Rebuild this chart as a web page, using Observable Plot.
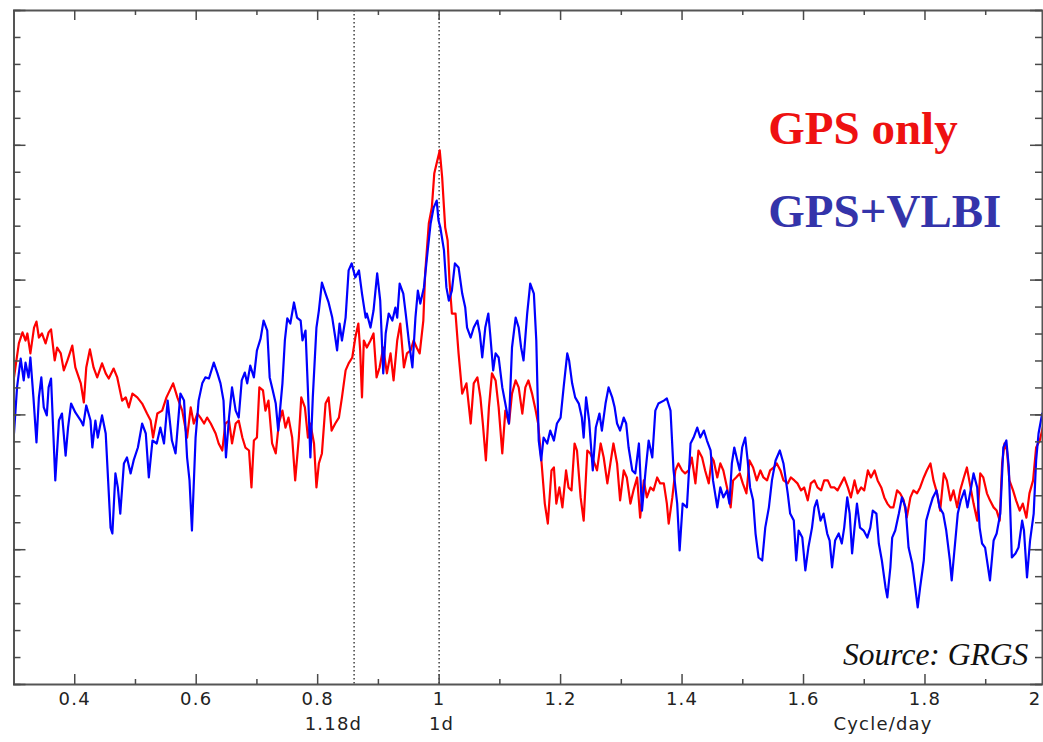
<!DOCTYPE html>
<html>
<head>
<meta charset="utf-8">
<script src="https://cdn.jsdelivr.net/npm/d3@7"></script>
<script src="https://cdn.jsdelivr.net/npm/@observablehq/plot@0.6"></script>
<style>
  html, body { margin: 0; padding: 0; background: #fff; overflow: hidden; }
  #chart { width: 1043px; height: 742px; }
</style>
</head>
<body>
<div id="chart"></div>
<script>
// ---- Data ----
const redFreq = [0.300,0.308,0.314,0.319,0.322,0.327,0.333,0.337,0.341,0.346,0.352,0.357,0.361,0.367,0.371,0.377,0.382,0.388,0.396,0.401,0.410,0.415,0.419,0.425,0.431,0.437,0.445,0.451,0.456,0.464,0.470,0.478,0.484,0.489,0.495,0.503,0.511,0.519,0.525,0.529,0.536,0.544,0.551,0.562,0.569,0.577,0.585,0.591,0.596,0.602,0.607,0.613,0.618,0.624,0.632,0.637,0.643,0.648,0.654,0.659,0.665,0.670,0.676,0.681,0.687,0.691,0.695,0.700,0.704,0.710,0.714,0.719,0.725,0.731,0.736,0.742,0.747,0.752,0.758,0.763,0.769,0.773,0.779,0.784,0.788,0.794,0.798,0.802,0.807,0.813,0.818,0.823,0.829,0.835,0.840,0.846,0.851,0.857,0.862,0.867,0.870,0.873,0.876,0.881,0.887,0.892,0.897,0.902,0.908,0.914,0.920,0.925,0.931,0.936,0.942,0.947,0.953,0.958,0.963,0.968,0.974,0.977,0.983,0.988,0.992,0.997,1.001,1.005,1.008,1.010,1.014,1.017,1.021,1.027,1.032,1.038,1.045,1.052,1.057,1.063,1.068,1.072,1.077,1.082,1.087,1.093,1.098,1.104,1.109,1.115,1.120,1.126,1.131,1.137,1.142,1.147,1.153,1.159,1.163,1.168,1.174,1.179,1.185,1.189,1.193,1.198,1.203,1.209,1.213,1.218,1.223,1.227,1.233,1.238,1.244,1.249,1.254,1.260,1.266,1.271,1.277,1.282,1.287,1.293,1.298,1.304,1.309,1.315,1.320,1.326,1.331,1.337,1.342,1.348,1.353,1.359,1.364,1.370,1.375,1.378,1.384,1.389,1.394,1.400,1.405,1.411,1.416,1.422,1.427,1.433,1.438,1.444,1.449,1.452,1.458,1.463,1.468,1.474,1.480,1.484,1.489,1.495,1.500,1.506,1.511,1.517,1.523,1.529,1.534,1.540,1.545,1.551,1.556,1.562,1.567,1.574,1.579,1.585,1.590,1.596,1.601,1.607,1.612,1.618,1.623,1.629,1.634,1.640,1.645,1.651,1.656,1.662,1.667,1.673,1.678,1.684,1.689,1.695,1.700,1.706,1.711,1.717,1.722,1.728,1.733,1.738,1.743,1.748,1.754,1.759,1.765,1.770,1.776,1.781,1.787,1.792,1.798,1.803,1.809,1.814,1.820,1.825,1.831,1.836,1.842,1.847,1.853,1.858,1.864,1.869,1.875,1.880,1.886,1.891,1.896,1.902,1.907,1.913,1.918,1.923,1.927,1.931,1.935,1.939,1.945,1.950,1.956,1.961,1.967,1.972,1.978,1.983,1.989,1.994,2.000];
const redPower = [11.39,12.65,13.06,12.76,13.02,12.28,13.24,13.46,12.87,13.02,12.65,13.06,13.17,12.02,12.50,12.28,11.65,12.02,12.57,11.76,11.17,10.46,11.76,12.43,11.76,11.39,11.91,11.54,11.35,11.72,11.39,10.53,10.65,10.28,10.79,10.65,10.42,10.05,9.79,9.16,10.05,10.16,10.65,11.17,10.65,10.16,9.16,10.28,9.68,10.05,9.90,9.68,9.90,9.68,9.31,8.94,8.68,9.68,9.79,8.94,9.68,9.79,9.16,8.79,8.68,7.31,9.05,9.16,11.02,10.91,10.16,10.53,8.94,8.57,9.68,10.16,9.53,9.90,9.16,7.57,9.16,10.65,10.28,9.16,9.68,8.94,7.31,8.20,8.57,10.42,10.65,9.42,9.68,9.90,10.65,11.65,11.91,12.13,12.87,13.39,12.39,10.65,12.76,12.50,12.76,13.02,11.39,11.76,12.50,11.54,12.28,11.28,12.76,13.39,11.76,12.28,12.39,12.76,12.50,12.28,13.50,15.25,17.10,17.69,18.95,19.44,19.81,18.81,17.69,16.95,16.47,14.99,13.76,13.76,12.28,10.79,11.17,9.68,11.17,11.39,10.65,9.68,8.31,10.28,11.54,11.28,10.28,8.57,10.16,9.68,10.79,11.28,11.02,10.05,11.02,11.28,10.79,10.16,9.68,8.42,6.71,5.97,7.94,8.05,6.71,7.31,6.57,7.94,7.31,7.20,8.94,8.68,6.94,6.08,8.68,8.57,8.31,7.94,8.94,8.42,7.46,8.20,8.94,8.20,6.83,7.94,7.68,6.71,7.20,7.68,6.19,7.57,6.94,7.31,7.20,7.68,7.46,7.46,6.71,5.97,6.94,7.94,8.20,7.94,7.83,7.94,8.42,7.46,8.68,8.42,7.94,7.46,8.42,8.31,7.68,8.20,7.94,7.31,6.57,7.57,7.68,7.83,7.46,7.09,8.31,8.05,7.57,7.94,7.68,7.57,7.94,8.05,8.20,7.94,7.57,7.46,7.68,7.57,7.46,7.20,7.31,6.83,7.46,7.57,7.31,7.20,7.57,7.57,7.31,7.31,7.20,7.46,7.68,7.31,6.94,7.57,7.09,7.31,7.20,7.94,7.68,7.94,7.57,7.31,6.94,6.71,6.57,6.57,7.20,7.09,6.83,6.19,6.94,7.20,7.09,7.31,7.68,7.94,8.20,7.57,7.09,6.45,7.83,7.57,6.83,7.20,6.57,7.20,7.68,8.05,7.31,6.71,6.08,7.83,7.68,7.09,6.83,6.57,6.45,6.08,8.20,8.94,8.68,7.57,7.20,6.83,6.45,6.71,6.19,7.09,7.57,8.79,9.05,9.53,10.16];

const blueFreq = [0.300,0.305,0.311,0.316,0.319,0.324,0.327,0.332,0.337,0.341,0.345,0.349,0.354,0.357,0.361,0.368,0.374,0.379,0.385,0.389,0.394,0.401,0.410,0.414,0.419,0.426,0.429,0.434,0.438,0.445,0.451,0.459,0.462,0.467,0.471,0.475,0.481,0.486,0.492,0.497,0.504,0.511,0.517,0.522,0.528,0.535,0.541,0.547,0.553,0.560,0.566,0.574,0.580,0.585,0.589,0.593,0.599,0.604,0.610,0.615,0.621,0.629,0.635,0.640,0.645,0.649,0.654,0.659,0.665,0.670,0.675,0.680,0.684,0.689,0.695,0.700,0.706,0.711,0.717,0.721,0.726,0.731,0.735,0.742,0.746,0.750,0.755,0.761,0.766,0.772,0.775,0.780,0.784,0.788,0.792,0.798,0.802,0.807,0.813,0.818,0.824,0.829,0.832,0.836,0.840,0.846,0.851,0.856,0.862,0.868,0.873,0.879,0.881,0.887,0.892,0.898,0.903,0.908,0.912,0.917,0.923,0.928,0.931,0.935,0.941,0.945,0.950,0.956,0.961,0.965,0.969,0.975,0.980,0.986,0.991,0.996,0.999,1.002,1.008,1.012,1.016,1.021,1.026,1.032,1.038,1.043,1.046,1.052,1.057,1.063,1.067,1.071,1.076,1.081,1.084,1.089,1.093,1.098,1.104,1.109,1.115,1.120,1.126,1.131,1.135,1.139,1.145,1.150,1.156,1.160,1.164,1.168,1.172,1.178,1.183,1.189,1.194,1.200,1.205,1.211,1.214,1.219,1.224,1.230,1.235,1.238,1.242,1.247,1.253,1.258,1.264,1.268,1.274,1.279,1.285,1.289,1.293,1.298,1.304,1.308,1.312,1.318,1.323,1.329,1.334,1.340,1.345,1.351,1.356,1.361,1.370,1.375,1.381,1.386,1.392,1.396,1.401,1.408,1.414,1.419,1.425,1.430,1.436,1.441,1.447,1.451,1.458,1.463,1.468,1.474,1.478,1.482,1.486,1.491,1.495,1.499,1.504,1.508,1.512,1.517,1.521,1.526,1.532,1.537,1.543,1.548,1.554,1.561,1.567,1.574,1.578,1.584,1.588,1.592,1.598,1.603,1.608,1.614,1.618,1.622,1.628,1.633,1.639,1.643,1.647,1.652,1.658,1.663,1.667,1.672,1.676,1.680,1.684,1.688,1.693,1.699,1.705,1.710,1.714,1.720,1.724,1.729,1.735,1.738,1.743,1.746,1.751,1.757,1.762,1.768,1.773,1.779,1.784,1.788,1.792,1.798,1.802,1.808,1.813,1.819,1.824,1.830,1.835,1.841,1.844,1.848,1.854,1.859,1.865,1.870,1.876,1.880,1.886,1.890,1.894,1.899,1.907,1.913,1.918,1.924,1.929,1.934,1.938,1.943,1.949,1.954,1.960,1.963,1.968,1.973,1.979,1.983,1.987,1.993,2.000];
const bluePower = [9.31,11.02,12.09,11.28,11.94,11.39,12.13,10.65,8.98,10.65,11.39,10.28,9.98,11.02,11.35,7.57,9.79,10.05,8.49,9.53,10.42,10.09,9.79,9.61,10.35,9.79,8.79,9.79,9.16,9.98,9.31,5.82,5.60,7.83,7.31,6.34,8.20,8.42,7.83,8.31,8.79,9.68,9.31,7.68,9.05,8.94,9.53,8.94,10.53,9.05,8.57,10.79,10.53,8.42,7.57,5.71,9.16,10.53,11.17,11.39,11.35,11.94,11.54,11.17,10.53,8.42,9.90,11.02,10.16,9.90,11.28,11.57,11.17,11.83,11.39,12.39,12.83,13.50,13.13,11.39,10.91,10.42,9.42,11.17,12.76,13.58,13.39,14.17,13.61,13.50,12.76,13.13,10.91,8.42,10.65,13.24,13.87,14.91,14.50,14.17,13.61,12.87,12.39,13.39,12.76,13.61,15.36,15.62,15.10,15.36,14.50,13.61,13.76,13.24,13.87,15.25,14.24,11.54,13.02,13.76,13.50,13.98,13.61,14.87,14.50,13.76,12.76,11.76,13.61,14.61,14.13,14.73,15.84,17.10,17.69,17.95,17.21,16.95,16.10,14.73,14.24,14.61,15.62,15.47,14.50,13.98,13.24,12.87,13.24,13.50,13.02,12.13,13.24,13.76,13.02,11.65,12.28,12.13,11.02,10.42,9.68,12.50,13.61,13.24,12.50,12.02,13.76,14.87,14.50,12.76,9.05,8.31,9.16,8.94,9.42,9.05,9.68,9.90,11.02,12.28,12.02,11.17,10.65,10.42,9.90,9.16,10.65,9.79,7.94,9.53,10.05,9.42,10.42,11.02,10.65,10.28,9.68,9.42,9.90,9.68,8.79,7.94,7.83,8.94,6.45,7.94,9.05,8.42,10.16,10.42,10.53,10.61,10.16,7.94,6.71,4.97,6.71,6.57,8.94,9.16,9.53,9.16,9.42,9.05,8.68,7.57,6.57,7.31,6.94,7.20,6.71,8.20,8.79,8.31,7.94,8.79,9.16,8.31,7.31,6.83,5.60,4.71,4.60,5.82,6.57,7.57,8.31,8.68,8.20,7.09,6.34,6.08,4.60,5.71,5.45,4.23,5.08,5.82,6.57,6.83,6.08,6.34,5.60,5.34,4.34,5.34,5.60,5.23,5.82,6.94,6.34,4.86,5.82,6.71,5.82,5.71,5.45,5.82,6.45,6.34,5.23,4.60,3.60,3.23,4.34,5.45,5.71,6.34,6.94,6.57,5.08,4.49,3.60,2.86,3.60,4.60,6.08,6.57,6.94,7.20,6.57,6.34,5.71,4.60,3.86,4.86,6.34,6.83,7.20,6.57,7.31,7.83,7.31,5.82,5.23,5.08,3.86,5.34,5.60,6.34,8.79,9.05,8.05,4.71,4.86,5.08,6.08,5.71,3.97,5.34,6.34,8.31,9.31,10.05,9.98];

const xTickValues = [0.4, 0.6, 0.8, 1.0, 1.2, 1.4, 1.6, 1.8];
const xTickLabels = ["0.4", "0.6", "0.8", "1", "1.2", "1.4", "1.6", "1.8"];
const xEndLabel = "2";
const xMinorValues = [0.5, 0.7, 0.9, 1.1, 1.3, 1.5, 1.7, 1.9];
const periodLines = [0.86, 1.0];
const periodLabels = ["1.18d", "1d", "Cycle/day"];
const periodLabelPos = [0.826, 1.004, 1.731];
const seriesNames = ["GPS only", "GPS+VLBI"];
const seriesColors = ["#ff0000", "#0000ff"];
const legendColors = ["#ee1111", "#3434aa"];
const sourceText = "Source: GRGS";

// ---- Tables ----
const red = redFreq.map((f, i) => ({f, p: redPower[i]}));
const blue = blueFreq.map((f, i) => ({f, p: bluePower[i]}));
const yMinor = d3.range(0, 26, 1);
const yMajor = d3.range(0, 26, 5);

const W = 1043, H = 742, mT = 10, mB = 58, mL = 13.5, mR = 1;
const pw = W - mL - mR, ph = H - mT - mB;
const axisColor = "#4a4a4a";
const xMax = 1.9935;

const chart = Plot.plot({
  width: W, height: H,
  marginTop: mT, marginBottom: mB, marginLeft: mL, marginRight: mR,
  x: {domain: [0.3, xMax], axis: null},
  y: {domain: [0, 25], axis: null},
  style: {background: "white", overflow: "hidden"},
  marks: [
    // period markers
    Plot.ruleX(periodLines, {x: d => d, stroke: "#333", strokeWidth: 1.4, strokeDasharray: "1.4,2.6"}),
    // series
    Plot.line(red, {x: "f", y: "p", stroke: seriesColors[0], strokeWidth: 2.2, clip: true}),
    Plot.line(blue, {x: "f", y: "p", stroke: seriesColors[1], strokeWidth: 2.2, clip: true}),
    // frame
    Plot.frame({stroke: "#555", strokeWidth: 2}),
    // y ticks (left and right, inward)
    Plot.ruleY(yMinor, {y: d => d, insetRight: pw - 7, stroke: axisColor, strokeWidth: 1.5}),
    Plot.ruleY(yMajor, {y: d => d, insetRight: pw - 12, stroke: axisColor, strokeWidth: 1.5}),
    Plot.ruleY(yMinor, {y: d => d, insetLeft: pw - 7, stroke: axisColor, strokeWidth: 1.5}),
    Plot.ruleY(yMajor, {y: d => d, insetLeft: pw - 12, stroke: axisColor, strokeWidth: 1.5}),
    // x ticks (bottom and top, inward)
    Plot.ruleX(xTickValues, {x: d => d, insetTop: ph - 10, stroke: axisColor, strokeWidth: 1.5}),
    Plot.ruleX(xMinorValues, {x: d => d, insetTop: ph - 5, stroke: axisColor, strokeWidth: 1.5}),
    Plot.ruleX(xTickValues, {x: d => d, insetBottom: ph - 10, stroke: axisColor, strokeWidth: 1.5}),
    Plot.ruleX(xMinorValues, {x: d => d, insetBottom: ph - 5, stroke: axisColor, strokeWidth: 1.5}),
    // x tick labels
    Plot.text(xTickValues, {x: d => d, text: (d, i) => xTickLabels[i], frameAnchor: "bottom", dy: 20,
      fontSize: 18, fontFamily: "DejaVu Sans", fill: "#222"}),
    Plot.text([xEndLabel], {x: xMax, text: d => d, frameAnchor: "bottom", dy: 20, dx: -1, textAnchor: "end",
      fontSize: 18, fontFamily: "DejaVu Sans", fill: "#222"}),
    Plot.text(periodLabels, {x: (d, i) => periodLabelPos[i], text: d => d, frameAnchor: "bottom", dy: 45,
      fontSize: 18, fontFamily: "DejaVu Sans", fill: "#222"}),
    // legend
    Plot.text(seriesNames, {x: 1.542, y: (d, i) => i === 0 ? 20.62 : 17.51, text: d => d,
      fill: (d, i) => legendColors[i], textAnchor: "start", fontSize: 47, fontWeight: "bold",
      fontFamily: "Liberation Serif, Times New Roman, serif"}),
    // source
    Plot.text([sourceText], {x: 1.970, y: 1.08, text: d => d, textAnchor: "end", fontSize: 31.5,
      fontStyle: "italic", fill: "#111", fontFamily: "Liberation Serif, Times New Roman, serif"})
  ]
});

document.getElementById("chart").appendChild(chart);
chart.querySelectorAll('g[font-family="DejaVu Sans"]').forEach(g => g.style.letterSpacing = "1.2px");
</script>
</body>
</html>
